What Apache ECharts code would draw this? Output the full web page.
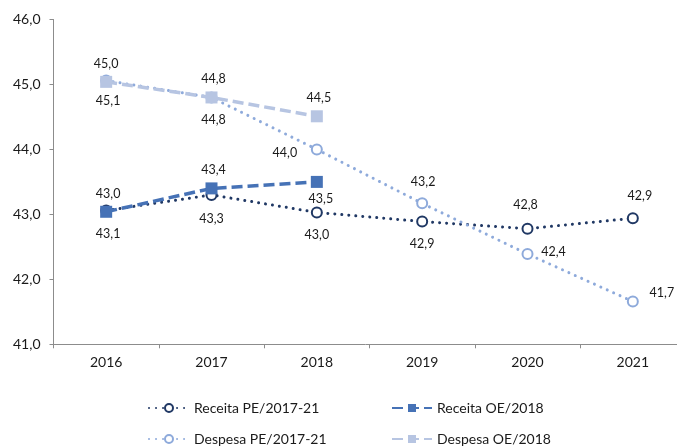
<!DOCTYPE html>
<html>
<head>
<meta charset="utf-8">
<script src="https://cdn.jsdelivr.net/npm/echarts@6/dist/echarts.min.js"></script>
<style>
html,body{margin:0;padding:0;background:#fff;}
#chart{width:677px;height:447px;}
</style>
</head>
<body>
<div id="chart"></div>
<script>
// ---- data ----
var categories = ['2016', '2017', '2018', '2019', '2020', '2021'];
var receitaPE = [43.06, 43.3, 43.03, 42.89, 42.78, 42.94];
var receitaOE = [43.04, 43.4, 43.5];
var despesaPE = [45.06, 44.8, 44.0, 43.17, 42.39, 41.66];
var despesaOE = [45.04, 44.8, 44.51];
var yTicks = [41, 42, 43, 44, 45, 46];

// ---- label placement (offsets from marker centre, px) ----
var offReceitaPE = [[2, 23], [0, 24], [0, 23], [0, 22], [-2, -24], [7, -22]];
var offReceitaOE = [[2, -18], [2, -18], [4, 17]];
var offDespesaPE = [[2, 20], [2, 23], [-32, 4], [1, -21], [26, -2], [29, -8]];
var offDespesaOE = [[0, -18], [2, -18], [2, -18]];

var FONT = 'Lato';
function fmt(v) { return v.toFixed(1).replace('.', ','); }
function withLabels(vals, offs) {
  return vals.map(function (v, i) {
    return {
      value: v,
      label: { show: true, position: 'inside', offset: offs[i], formatter: fmt(v) }
    };
  });
}
var labelBase = { color: '#1a1a1a', fontFamily: FONT, fontSize: 12.5, align: 'center', verticalAlign: 'middle' };

var cRPE = '#203864', cROE = '#4672b6', cDPE = '#8eaadb', cDOE = '#b7c5e2';

var chart = echarts.init(document.getElementById('chart'), null, { renderer: 'canvas' });
var legendCommon = { orient: 'horizontal', itemWidth: 40, itemHeight: 10, itemGap: 6, padding: 0,
  textStyle: { fontFamily: FONT, fontSize: 14, color: '#1a1a1a' } };
chart.setOption({
  animation: false,
  backgroundColor: '#fff',
  grid: { left: 53.5, width: 632, top: 19.5, bottom: 102.7, containLabel: false, outerBoundsMode: 'none' },
  legend: [
    Object.assign({ left: 148, top: 401, data: ['Receita PE/2017-21'] }, legendCommon),
    Object.assign({ left: 391, top: 401, data: ['Receita OE/2018'] }, legendCommon),
    Object.assign({ left: 148, top: 432, data: ['Despesa PE/2017-21'] }, legendCommon),
    Object.assign({ left: 391, top: 432, data: ['Despesa OE/2018'] }, legendCommon)
  ],
  xAxis: {
    type: 'category', data: categories, boundaryGap: true,
    axisLine: { lineStyle: { color: '#8c8c8c', width: 1 } },
    axisTick: { show: true, inside: false, length: 4, lineStyle: { color: '#8c8c8c' } },
    axisLabel: { fontFamily: FONT, fontSize: 14, color: '#1a1a1a', margin: 11 },
    splitLine: { show: false }
  },
  yAxis: {
    type: 'value', min: yTicks[0], max: yTicks[yTicks.length - 1], interval: 1,
    axisLine: { show: true, lineStyle: { color: '#8c8c8c', width: 1 } },
    axisTick: { show: true, inside: false, length: 4, lineStyle: { color: '#8c8c8c' } },
    axisLabel: { fontFamily: FONT, fontSize: 14, color: '#1a1a1a', margin: 13, formatter: function (v) { return fmt(v); } },
    splitLine: { show: false }
  },
  series: [
    {
      name: 'Receita PE/2017-21', type: 'line', data: withLabels(receitaPE, offReceitaPE),
      symbol: 'emptyCircle', symbolSize: 10, z: 2,
      lineStyle: { color: cRPE, width: 3, type: [0.01, 7], cap: 'round' },
      itemStyle: { color: cRPE, borderColor: cRPE, borderWidth: 1.2 },
      label: labelBase
    },
    {
      name: 'Despesa PE/2017-21', type: 'line', data: withLabels(despesaPE, offDespesaPE),
      symbol: 'emptyCircle', symbolSize: 10, z: 2,
      lineStyle: { color: cDPE, width: 3, type: [0.01, 7], cap: 'round' },
      itemStyle: { color: cDPE, borderColor: cDPE, borderWidth: 1.2 },
      label: labelBase
    },
    {
      name: 'Receita OE/2018', type: 'line', data: withLabels(receitaOE, offReceitaOE),
      symbol: 'rect', symbolSize: 12, z: 3,
      lineStyle: { color: cROE, width: 3.5, type: [11, 5] },
      itemStyle: { color: cROE },
      label: labelBase
    },
    {
      name: 'Despesa OE/2018', type: 'line', data: withLabels(despesaOE, offDespesaOE),
      symbol: 'rect', symbolSize: 12, z: 3,
      lineStyle: { color: cDOE, width: 3.5, type: [11, 5] },
      itemStyle: { color: cDOE },
      label: labelBase
    }
  ]
});
</script>
</body>
</html>
